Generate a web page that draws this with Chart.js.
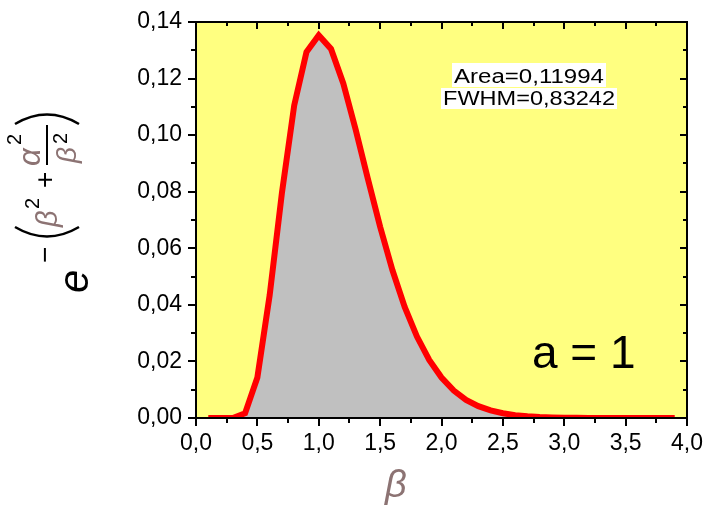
<!DOCTYPE html>
<html>
<head>
<meta charset="utf-8">
<script src="https://cdn.jsdelivr.net/npm/chart.js@4.4.1/dist/chart.umd.min.js"></script>
<style>
html, body { margin: 0; padding: 0; background: #fff; }
#wrap { width: 706px; height: 508px; }
</style>
</head>
<body>
<div id="wrap"><canvas id="chart"></canvas></div>
<script>
// data
const betaValues = [0.1, 0.2, 0.3, 0.4, 0.5, 0.6, 0.7, 0.8, 0.9, 1.0,
  1.1, 1.2, 1.3, 1.4, 1.5, 1.6, 1.7, 1.8, 1.9, 2.0,
  2.1, 2.2, 2.3, 2.4, 2.5, 2.6, 2.7, 2.8, 2.9, 3.0,
  3.1, 3.2, 3.3, 3.4, 3.5, 3.6, 3.7, 3.8, 3.9];
const curveValues = [0, 0, 0.00001, 0.0017, 0.0143, 0.0434, 0.0796, 0.1105, 0.1294, 0.1353,
  0.1305, 0.1183, 0.1021, 0.0846, 0.0676, 0.0523, 0.0393, 0.0288, 0.0205, 0.0143,
  0.0097, 0.0064, 0.0042, 0.0027, 0.0017, 0.0010, 0.0006, 0.00035, 0.0002, 0.0001,
  0.00006, 0.00003, 0.00002, 0.00001, 0, 0, 0, 0, 0];
const xMajorTicks = [0, 0.5, 1.0, 1.5, 2.0, 2.5, 3.0, 3.5, 4.0];
const yMajorTicks = [0, 0.02, 0.04, 0.06, 0.08, 0.10, 0.12, 0.14];
const infoLines = ["Area=0,11994", "FWHM=0,83242"];
const paramLabel = "a = 1";

const BROWN = "#8c7373";
const FONT = '"Liberation Sans", Arial, sans-serif';

// yellow plot background
const bgPlugin = {
  id: "bg",
  beforeDraw(chart) {
    const { ctx, chartArea: a } = chart;
    ctx.save();
    ctx.fillStyle = "#ffff80";
    ctx.fillRect(a.left, a.top, a.right - a.left, a.bottom - a.top);
    ctx.restore();
  }
};

// frame, major + minor ticks, titles and notes
const decoPlugin = {
  id: "deco",
  afterDatasetsDraw(chart) {
    const { ctx, chartArea: a, scales } = chart;
    const xs = scales.x, ys = scales.y;
    ctx.save();
    ctx.strokeStyle = "#000";
    ctx.lineWidth = 2;
    ctx.strokeRect(a.left, a.top, a.right - a.left, a.bottom - a.top);

    ctx.beginPath();
    xMajorTicks.forEach((v, i) => {
      const px = Math.round(xs.getPixelForValue(v));
      ctx.moveTo(px, a.bottom); ctx.lineTo(px, a.bottom + 8);
      ctx.moveTo(px, a.top); ctx.lineTo(px, a.top + 7);
      if (i < xMajorTicks.length - 1) {
        const m = Math.round(xs.getPixelForValue((v + xMajorTicks[i + 1]) / 2));
        ctx.moveTo(m, a.bottom); ctx.lineTo(m, a.bottom + 5);
        ctx.moveTo(m, a.top); ctx.lineTo(m, a.top + 4);
      }
    });
    yMajorTicks.forEach((v, i) => {
      const py = Math.round(ys.getPixelForValue(v));
      ctx.moveTo(a.left, py); ctx.lineTo(a.left - 8, py);
      ctx.moveTo(a.right, py); ctx.lineTo(a.right - 7, py);
      if (i < yMajorTicks.length - 1) {
        const m = Math.round(ys.getPixelForValue((v + yMajorTicks[i + 1]) / 2));
        ctx.moveTo(a.left, m); ctx.lineTo(a.left - 5, m);
        ctx.moveTo(a.right, m); ctx.lineTo(a.right - 4, m);
      }
    });
    ctx.stroke();

    // info boxes (text stretched to the widths seen in the picture)
    ctx.font = "20px " + FONT;
    ctx.textBaseline = "alphabetic";
    const cx = 529;
    const boxes = [[63, 87, 83, 150], [88, 109, 105, 172]];
    infoLines.forEach((t, i) => {
      const [top, bot, base, tw] = boxes[i];
      const sx = tw / ctx.measureText(t).width;
      ctx.fillStyle = "#fff";
      ctx.fillRect(cx - tw / 2 - 2, top, tw + 4, bot - top);
      ctx.save();
      ctx.translate(cx - tw / 2, base);
      ctx.scale(sx, 1);
      ctx.fillStyle = "#000";
      ctx.fillText(t, 0, 0);
      ctx.restore();
    });

    // a = 1
    ctx.fillStyle = "#000";
    ctx.font = "46px " + FONT;
    ctx.fillText(paramLabel, 532, 368);

    // x title
    ctx.fillStyle = BROWN;
    ctx.font = "italic 38px " + FONT;
    ctx.fillText("\u03b2", 385, 497);

    drawYTitle(ctx);
    ctx.restore();
  }
};

function drawYTitle(ctx) {
  ctx.save();
  ctx.translate(88, 290);
  ctx.rotate(-Math.PI / 2);
  ctx.textAlign = "left";
  ctx.textBaseline = "alphabetic";
  const put = (txt, font, color, x, y) => {
    ctx.font = font + " " + FONT;
    ctx.fillStyle = color;
    ctx.fillText(txt, x, y);
  };
  put("e", "italic 42px", "#000", -3, 0);
  put("\u2212", "28px", "#000", 27, -34);
  put("\u03b2", "italic 29px", BROWN, 63, -31);
  put("2", "20px", "#000", 81, -49);
  put("+", "28px", "#000", 102, -34);
  put("\u03b1", "italic 31px", BROWN, 124, -48);
  put("2", "20px", "#000", 145, -67);
  put("\u03b2", "italic 28px", BROWN, 127, -12);
  put("2", "20px", "#000", 146, -21);
  ctx.strokeStyle = "#000";
  ctx.lineWidth = 2;
  ctx.beginPath();
  ctx.moveTo(125, -41); ctx.lineTo(165, -41);
  ctx.stroke();
  ctx.lineWidth = 2.5;
  ctx.beginPath();
  ctx.moveTo(63, -73); ctx.quadraticCurveTo(44, -41, 63, -9);
  ctx.moveTo(166, -73); ctx.quadraticCurveTo(185, -41, 166, -9);
  ctx.stroke();
  ctx.restore();
}

const points = betaValues.map((b, i) => ({ x: b, y: curveValues[i] }));

new Chart(document.getElementById("chart"), {
  type: "line",
  data: {
    datasets: [{
      data: points,
      borderColor: "#ff0000",
      borderWidth: 6,
      backgroundColor: "#c0c0c0",
      fill: "origin",
      pointRadius: 0,
      tension: 0
    }]
  },
  options: {
    responsive: true,
    maintainAspectRatio: false,
    animation: false,
    events: [],
    layout: { padding: { top: 22, right: 19, left: 0, bottom: 0 } },
    plugins: { legend: { display: false }, tooltip: { enabled: false } },
    scales: {
      x: {
        type: "linear",
        min: 0, max: 4,
        grid: { display: false, drawTicks: false },
        border: { display: false },
        afterFit(s) { s.height = 90; s.paddingLeft = 0; s.paddingRight = 0; },
        afterBuildTicks(s) { s.ticks = xMajorTicks.map(v => ({ value: v })); },
        ticks: {
          color: "#000",
          font: { family: FONT, size: 23 },
          padding: 12,
          maxRotation: 0,
          autoSkip: false,
          callback: v => v.toFixed(1).replace(".", ",")
        }
      },
      y: {
        min: 0, max: 0.14,
        grid: { display: false, drawTicks: false },
        border: { display: false },
        afterFit(s) { s.width = 196; s.paddingTop = 0; s.paddingBottom = 0; },
        afterBuildTicks(s) { s.ticks = yMajorTicks.map(v => ({ value: v })); },
        ticks: {
          color: "#000",
          font: { family: FONT, size: 23 },
          padding: 14,
          callback: v => v.toFixed(2).replace(".", ",")
        }
      }
    }
  },
  plugins: [bgPlugin, decoPlugin]
});
</script>
</body>
</html>
